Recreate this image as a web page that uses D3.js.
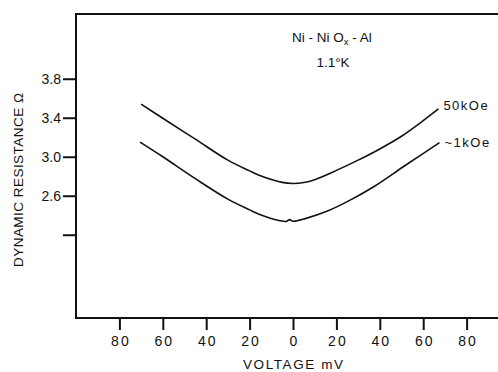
<!DOCTYPE html>
<html>
<head>
<meta charset="utf-8">
<script src="https://cdn.jsdelivr.net/npm/d3@7"></script>
<style>
  body { margin: 0; background: #fff; }
  svg { display: block; }
  text { font-family: "Liberation Sans", Arial, sans-serif; fill: #111; }
</style>
</head>
<body>
<div id="chart"></div>
<script>
// voltage in mV, dynamic resistance in ohm
const highFieldV = [-70, -60, -45, -30, -20, -15, -5, 0, 5, 10, 20, 30, 40, 50, 60, 67];
const highFieldR = [3.54, 3.395, 3.18, 2.965, 2.855, 2.805, 2.737, 2.725, 2.735, 2.765, 2.86, 2.965, 3.08, 3.21, 3.37, 3.49];

const lowFieldV = [-70.5, -60, -45, -30, -20, -15, -6, -3, -1.5, 0, 6, 15, 25, 37, 52, 67.5];
const lowFieldR = [3.15, 3.00, 2.775, 2.565, 2.455, 2.405, 2.344, 2.337, 2.355, 2.338, 2.368, 2.435, 2.54, 2.69, 2.915, 3.145];

const seriesLabels = ["50kOe", "~1kOe"];

const xTicks = [-80, -60, -40, -20, 0, 20, 40, 60, 80];
const yTicks = [2.2, 2.6, 3.0, 3.4, 3.8];
const yTickLabels = ["", "2.6", "3.0", "3.4", "3.8"];

const width = 498, height = 372;
const margin = { top: 14, right: -12, bottom: 54, left: 76 };

const svg = d3.select("#chart").append("svg")
  .attr("width", width)
  .attr("height", height);

const x = d3.scaleLinear()
  .domain([-100, 100])
  .range([margin.left, width - margin.right]);

const y = d3.scaleLinear()
  .domain([1.346, 4.464])
  .range([height - margin.bottom, margin.top]);

// frame (right side runs off the page)
svg.append("path")
  .attr("d", `M${width + 5},${margin.top} H${margin.left} V${height - margin.bottom} H${width + 5}`)
  .attr("fill", "none")
  .attr("stroke", "#111")
  .attr("stroke-width", 2);

// x axis
const xAxis = svg.append("g")
  .attr("transform", `translate(0,${height - margin.bottom})`)
  .call(d3.axisBottom(x)
    .tickValues(xTicks)
    .tickSize(12)
    .tickPadding(6)
    .tickFormat(d => Math.abs(d)));
xAxis.select(".domain").remove();
xAxis.selectAll("line").attr("stroke", "#111").attr("stroke-width", 2);
xAxis.selectAll("text")
  .style("font-size", "14px")
  .style("letter-spacing", "2px")
  .attr("dx", "1px")
  .attr("fill", "#111");

// y axis
const yAxis = svg.append("g")
  .attr("transform", `translate(${margin.left},0)`)
  .call(d3.axisLeft(y)
    .tickValues(yTicks)
    .tickSize(13)
    .tickPadding(2)
    .tickFormat((d, i) => yTickLabels[i]));
yAxis.select(".domain").remove();
yAxis.selectAll("line").attr("stroke", "#111").attr("stroke-width", 2);
yAxis.selectAll("text")
  .style("font-size", "14px")
  .attr("fill", "#111");

// axis titles
svg.append("text")
  .attr("x", x(0))
  .attr("y", 369)
  .attr("text-anchor", "middle")
  .style("font-size", "13.5px")
  .attr("textLength", 100)
  .attr("lengthAdjust", "spacing")
  .text("VOLTAGE  mV");

svg.append("text")
  .attr("transform", "translate(23,180) rotate(-90)")
  .attr("text-anchor", "middle")
  .style("font-size", "13.5px")
  .attr("textLength", 174)
  .attr("lengthAdjust", "spacing")
  .text("DYNAMIC  RESISTANCE  Ω");

// sample annotation
const note = svg.append("text")
  .attr("x", 332)
  .attr("y", 42)
  .attr("text-anchor", "middle")
  .style("font-size", "13.5px");
note.append("tspan").text("Ni - Ni O");
note.append("tspan").attr("dy", 3).style("font-size", "9.5px").text("x");
note.append("tspan").attr("dy", -3).text(" - Al");

svg.append("text")
  .attr("x", 333)
  .attr("y", 67)
  .attr("text-anchor", "middle")
  .style("font-size", "13.5px")
  .text("1.1°K");

// curves
const line = d3.line()
  .x(d => x(d[0]))
  .y(d => y(d[1]))
  .curve(d3.curveCatmullRom.alpha(0.5));

const series = [
  d3.zip(highFieldV, highFieldR),
  d3.zip(lowFieldV, lowFieldR)
];

series.forEach((pts, i) => {
  svg.append("path")
    .datum(pts)
    .attr("fill", "none")
    .attr("stroke", "#111")
    .attr("stroke-width", 1.6)
    .attr("d", line);

  const last = pts[pts.length - 1];
  svg.append("text")
    .attr("x", x(last[0]) + 5)
    .attr("y", y(last[1]) + (i === 0 ? -2 : 1))
    .attr("dominant-baseline", "middle")
    .style("font-size", "13px")
    .style("letter-spacing", "1.5px")
    .text(seriesLabels[i]);
});
</script>
</body>
</html>
